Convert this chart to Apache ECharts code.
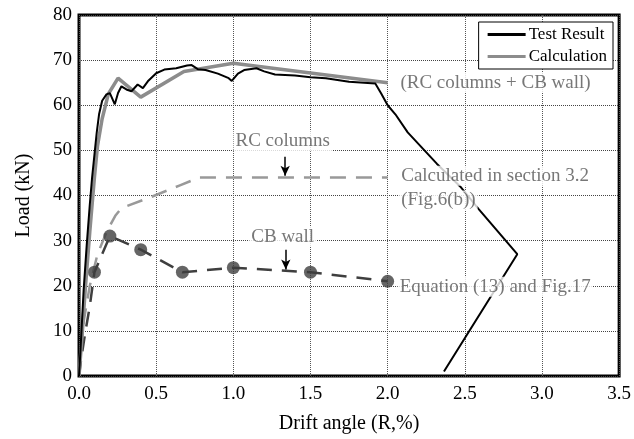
<!DOCTYPE html>
<html>
<head>
<meta charset="utf-8">
<script src="https://cdn.jsdelivr.net/npm/echarts@6/dist/echarts.min.js"></script>
<style>html,body{margin:0;padding:0;background:#fff;}#c{width:634px;height:439px;}</style>
</head>
<body>
<div id="c"></div>
<script>
// ---- data (drift angle %, load kN) ----
const xTicks = [0, 0.5, 1.0, 1.5, 2.0, 2.5, 3.0, 3.5];
const yTicks = [0, 10, 20, 30, 40, 50, 60, 70, 80];

const testResult = [
  [0,0],[0.01,6],[0.03,19],[0.05,29],[0.07,38],[0.085,44],[0.1,49],[0.115,54],[0.13,58],
  [0.15,61],[0.178,62.4],[0.2,62.7],[0.232,60.2],[0.253,62.7],[0.275,64.2],[0.307,63.5],
  [0.34,63.1],[0.38,64.6],[0.414,63.8],[0.446,65.3],[0.5,67.1],[0.553,67.9],[0.63,68.2],
  [0.70,68.8],[0.73,68.9],[0.77,68.0],[0.82,67.8],[0.9,67.0],[0.97,66.0],[0.99,65.4],
  [1.03,67.0],[1.07,67.8],[1.15,68.2],[1.2,67.5],[1.27,66.8],[1.4,66.6],[1.5,66.2],
  [1.6,66.0],[1.75,65.2],[1.92,64.8],[1.96,62.5],[2.0,60.0],[2.05,58.0],[2.13,54.0],
  [2.32,47.0],[2.47,42.0],[2.59,37.0],[2.84,27.0],[2.365,1.0]
];
const calculation = [
  [0,0],[0.02,9],[0.04,19],[0.07,32],[0.1,44],[0.12,51],[0.15,57],[0.19,62.5],
  [0.253,66.0],[0.40,61.8],[0.68,67.5],[1.0,69.3],[2.0,65.0]
];
const rcColumns = [
  [0,0],[0.03,12],[0.07,20],[0.12,27],[0.18,32],[0.235,35.5],[0.275,37.2],[0.47,39.7],
  [0.65,42.2],[0.78,44],[2.0,44]
];
const cbWall = [[0,0],[0.015,4],[0.04,9.5],[0.07,15.5],[0.1,23],[0.2,31],[0.4,28],[0.67,23],[1.0,24],[1.5,23],[2.0,21]];
const cbWallMarked = [[0.1,23],[0.2,31],[0.4,28],[0.67,23],[1.0,24],[1.5,23],[2.0,21]];

const notesLeft = [
  [2.07, 65.0, '(RC columns + CB wall)'],
  [2.075, 44.4, 'Calculated in section 3.2'],
  [2.075, 38.9, '(Fig.6(b))'],
  [2.065, 19.8, 'Equation (13) and Fig.17']
];
const notesCenter = [
  [1.32, 52.0, 'RC columns'],
  [1.32, 30.9, 'CB wall']
];
const arrows = [
  [[1.336, 48.6], [1.336, 44.4]],
  [[1.34, 28.0], [1.34, 23.6]]
];

const FONT = '"Liberation Serif", "Times New Roman", serif';
const chart = echarts.init(document.getElementById('c'), null, {renderer: 'canvas'});

chart.setOption({
  animation: false,
  backgroundColor: '#fff',
  grid: {left: 79, right: 11, top: 15, bottom: 61, show: true, borderColor: '#000', borderWidth: 3, backgroundColor: 'transparent'},
  legend: {
    data: ['Test Result', 'Calculation'],
    orient: 'vertical', right: 21, top: 22,
    backgroundColor: '#fff', borderColor: '#000', borderWidth: 1,
    padding: [4, 6, 4, 9], itemGap: 5, itemWidth: 38, itemHeight: 3,
    icon: 'rect',
    textStyle: {fontFamily: FONT, fontSize: 17, color: '#000', padding: [0, 0, 0, -2]}
  },
  xAxis: {
    type: 'value', min: 0, max: 3.5, interval: 0.5,
    name: 'Drift angle (R,%)', nameLocation: 'middle', nameGap: 38,
    nameTextStyle: {fontFamily: FONT, fontSize: 20, color: '#000'},
    axisLine: {show: false}, axisTick: {show: false},
    axisLabel: {fontFamily: FONT, fontSize: 19, color: '#000', margin: 9, formatter: v => v.toFixed(1)},
    splitLine: {show: true, lineStyle: {type: 'dotted', color: '#555', width: 1}}
  },
  yAxis: {
    type: 'value', min: 0, max: 80, interval: 10,
    name: 'Load (kN)', nameLocation: 'middle', nameGap: 45,
    nameTextStyle: {fontFamily: FONT, fontSize: 20, color: '#000'},
    axisLine: {show: false}, axisTick: {show: false},
    axisLabel: {fontFamily: FONT, fontSize: 19, color: '#000', margin: 7},
    splitLine: {show: true, lineStyle: {type: 'dotted', color: '#444', width: 1}}
  },
  series: [
    {name: 'RC columns', type: 'line', data: rcColumns, showSymbol: false, smooth: false,
     lineStyle: {color: '#999', width: 2.5, type: [16, 10]}, z: 2},
    {name: 'CB wall', type: 'line', data: cbWall, showSymbol: false,
     lineStyle: {color: '#3f3f3f', width: 2.5, type: [15, 10]}, z: 3},
    {name: 'CB wall pts', type: 'scatter', data: cbWallMarked, symbol: 'circle', symbolSize: 13,
     itemStyle: {color: '#3f3f3f'}, z: 4},
    {name: 'Calculation', type: 'line', data: calculation, showSymbol: false,
     lineStyle: {color: '#8c8c8c', width: 3.5}, itemStyle: {color: '#8c8c8c'}, z: 5},
    {name: 'Test Result', type: 'line', data: testResult, showSymbol: false,
     lineStyle: {color: '#000', width: 2}, itemStyle: {color: '#000'}, z: 6},
    {name: 'notesL', type: 'scatter', data: notesLeft, symbolSize: 0, z: 20,
     label: {show: true, position: 'right', distance: 0, formatter: p => p.data[2],
       fontFamily: FONT, fontSize: 19, color: '#555', backgroundColor: '#fff', padding: [0, 2, 0, 2], lineHeight: 20}},
    {name: 'notesC', type: 'scatter', data: notesCenter, symbolSize: 0, z: 20,
     label: {show: true, position: 'inside', formatter: p => p.data[2],
       fontFamily: FONT, fontSize: 19, color: '#555', backgroundColor: '#fff', padding: [0, 2, 0, 2], lineHeight: 20},
     markLine: {silent: true, symbol: ['none', 'arrow'], symbolSize: [7, 10], animation: false,
       lineStyle: {color: '#000', width: 1.5, type: 'solid'}, label: {show: false},
       data: arrows.map(a => [{coord: a[0]}, {coord: a[1]}])}}
  ]
});
</script>
</body>
</html>
